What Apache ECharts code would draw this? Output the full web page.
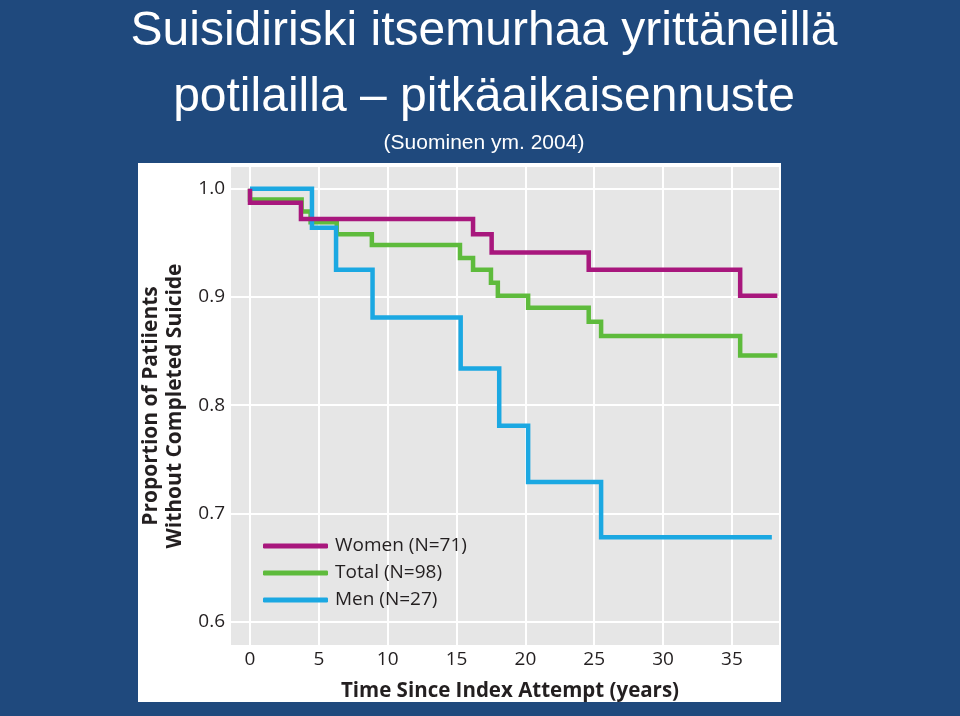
<!DOCTYPE html>
<html><head><meta charset="utf-8">
<script src="https://cdn.jsdelivr.net/npm/echarts@6/dist/echarts.min.js"></script>
<style>html,body{margin:0;padding:0;background:#1F497D}#c{width:960px;height:716px}</style>
</head><body><div id="c"></div><script>
const titleLines = ['Suisidiriski itsemurhaa yrittäneillä', 'potilailla – pitkäaikaisennuste', '(Suominen ym. 2004)'];
const xAxisTitle = 'Time Since Index Attempt (years)';
const yAxisTitle = 'Proportion of Patiients\nWithout Completed Suicide';
const seriesNames = ['Women (N=71)', 'Total (N=98)', 'Men (N=27)'];
const xTicks = [0, 5, 10, 15, 20, 25, 30, 35];
const yTicks = [0.6, 0.7, 0.8, 0.9, 1.0];

const womenTimes  = [0, 0, 3.7, 16.2, 17.55, 24.6, 35.6, 38.3];
const womenValues = [1.0, 0.987, 0.972, 0.958, 0.941, 0.925, 0.901, 0.901];

const totalTimes  = [0, 0, 3.75, 4.4, 6.3, 8.85, 15.25, 16.2, 17.5, 18.0, 20.2, 24.6, 25.5, 35.6, 38.3];
const totalValues = [1.0, 0.990, 0.979, 0.969, 0.958, 0.948, 0.936, 0.925, 0.913, 0.901, 0.890, 0.877, 0.864, 0.846, 0.846];

const menTimes  = [0, 4.5, 6.25, 8.9, 15.3, 18.1, 20.2, 25.5, 37.9];
const menValues = [1.0, 0.964, 0.925, 0.881, 0.834, 0.781, 0.729, 0.678, 0.678];

const colors = { women: '#A8177D', total: '#5EBB3C', men: '#1BA8E2' };

function pairs(ts, vs) { return ts.map((t, i) => [t, vs[i]]); }

const chart = echarts.init(document.getElementById('c'), null, { renderer: 'canvas' });
const font = '"Open Sans", "Noto Sans", sans-serif';
const titleFont = '"Liberation Sans", Arial, sans-serif';

function mkSeries(name, ts, vs, color) {
  return {
    name: name, type: 'line', step: 'end', data: pairs(ts, vs),
    symbol: 'none', showSymbol: false, animation: false,
    color: color,
    lineStyle: { color: color, width: 4.5, cap: 'butt', join: 'miter' }
  };
}

const option = {
  backgroundColor: '#1F497D',
  animation: false,
  graphic: [
    { type: 'rect', z: -10, shape: { x: 138, y: 163, width: 643, height: 539 }, style: { fill: '#FFFFFF' } },
    { type: 'text', style: { text: titleLines[0], x: 484, y: 32, align: 'center', verticalAlign: 'middle', fill: '#FFFFFF', fontSize: 48, fontFamily: titleFont } },
    { type: 'text', style: { text: titleLines[1], x: 484, y: 98, align: 'center', verticalAlign: 'middle', fill: '#FFFFFF', fontSize: 48, fontFamily: titleFont } },
    { type: 'text', style: { text: titleLines[2], x: 484, y: 143, align: 'center', verticalAlign: 'middle', fill: '#FFFFFF', fontSize: 21, fontFamily: titleFont } }
  ],
  grid: {
    left: 231, top: 167, right: 181, bottom: 71,
    show: true, backgroundColor: '#E6E6E6', borderWidth: 0, containLabel: false
  },
  legend: {
    data: seriesNames,
    orient: 'vertical', left: 258, top: 531,
    icon: 'roundRect', itemWidth: 65, itemHeight: 5, itemGap: 7,
    textStyle: { fontFamily: font, fontSize: 19, color: '#231F20', lineHeight: 20, padding: [0, 0, 0, 2] }
  },
  xAxis: {
    type: 'value', min: -1.38, max: 38.42, minInterval: 5, maxInterval: 5,
    name: xAxisTitle, nameLocation: 'middle', nameGap: 36,
    nameTextStyle: { fontFamily: font, fontSize: 20.5, fontWeight: 'bold', color: '#231F20', padding: [0, 0, 0, 10] },
    axisLine: { show: false }, axisTick: { show: false, customValues: xTicks },
    axisLabel: { customValues: xTicks, margin: 5, fontFamily: font, fontSize: 19, color: '#231F20', formatter: v => String(v) },
    splitLine: { show: true, lineStyle: { color: '#FFFFFF', width: 2 } }
  },
  yAxis: {
    type: 'value', min: 0.5785, max: 1.02, minInterval: 0.1, maxInterval: 0.1,
    name: yAxisTitle, nameLocation: 'middle', nameGap: 42, nameRotate: 90,
    nameTextStyle: { fontFamily: font, fontSize: 21, fontWeight: 'bold', color: '#231F20', lineHeight: 24, align: 'center' },
    axisLine: { show: false }, axisTick: { show: false, customValues: yTicks },
    axisLabel: { customValues: yTicks, margin: 6, fontFamily: font, fontSize: 19, color: '#231F20', formatter: v => v.toFixed(1) },
    splitLine: { show: true, lineStyle: { color: '#FFFFFF', width: 2 } }
  },
  series: [
    mkSeries(seriesNames[1], totalTimes, totalValues, colors.total),
    mkSeries(seriesNames[2], menTimes, menValues, colors.men),
    mkSeries(seriesNames[0], womenTimes, womenValues, colors.women)
  ]
};
chart.setOption(option);
</script></body></html>
